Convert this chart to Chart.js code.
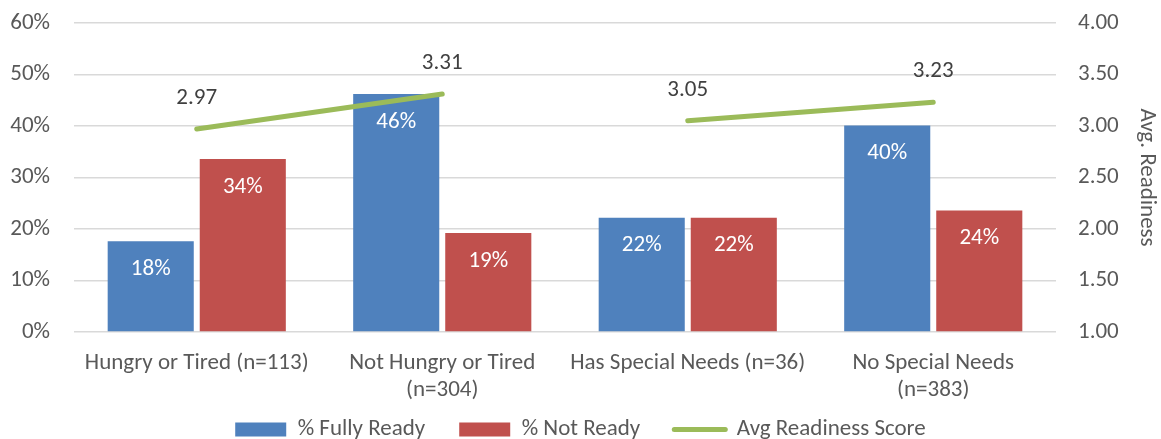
<!DOCTYPE html>
<html>
<head>
<meta charset="utf-8">
<script src="https://cdn.jsdelivr.net/npm/chart.js@4.4.1/dist/chart.umd.min.js"></script>
<style>
  html, body { margin: 0; padding: 0; background: #fff; }
  #wrap { width: 1161px; height: 439px; position: relative; }
</style>
</head>
<body>
<div id="wrap"><canvas id="c" width="1161" height="439"></canvas></div>
<script>
// Categories and series
const categories = [
  'Hungry or Tired (n=113)',
  ['Not Hungry or Tired', '(n=304)'],
  'Has Special Needs (n=36)',
  ['No Special Needs', '(n=383)']
];
const fullyReady = [17.6, 46.2, 22.2, 40.1];
const notReady = [33.6, 19.2, 22.2, 23.6];
const avgScore = [2.97, 3.31, 3.05, 3.23];
const leftTicks = [0, 10, 20, 30, 40, 50, 60];
const rightTicks = [1.0, 1.5, 2.0, 2.5, 3.0, 3.5, 4.0];

const FONT = 'Carlito, Lato, "Open Sans", sans-serif';
const FS = 23;
const BLUE = '#4F81BD', RED = '#C0504D', GREEN = '#9BBB59';
const TICK = '#595959';

// Value labels: percent inside bar tops, score above line points
const valueLabels = {
  id: 'valueLabels',
  afterDatasetsDraw(chart) {
    const ctx = chart.ctx;
    ctx.save();
    ctx.textAlign = 'center';
    ctx.textBaseline = 'middle';
    ctx.font = FS + 'px ' + FONT;
    chart.data.datasets.forEach((ds, i) => {
      const meta = chart.getDatasetMeta(i);
      meta.data.forEach((el, j) => {
        const v = ds.data[j];
        if (ds.type === 'line') {
          ctx.fillStyle = '#404040';
          ctx.fillText(v.toFixed(2), el.x, el.y - 31);
        } else {
          ctx.fillStyle = '#ffffff';
          ctx.fillText(Math.round(v) + '%', el.x, el.y + 28);
        }
      });
    });
    ctx.restore();
  }
};

// vertical axes: no extra space reserved above/below for the end tick labels
function noEndPadding(s) {
  s.paddingTop = 0;
  s.paddingBottom = 0;
}

new Chart(document.getElementById('c'), {
  data: {
    labels: categories,
    datasets: [
      {
        type: 'line', label: 'Avg Readiness Score', data: avgScore, yAxisID: 'y2',
        borderColor: GREEN, backgroundColor: GREEN, borderWidth: 5, borderCapStyle: 'round',
        pointRadius: 0, pointHoverRadius: 0, tension: 0, order: 0,
        segment: { borderColor: c => c.p0DataIndex === 1 ? 'rgba(0,0,0,0)' : GREEN }
      },
      {
        type: 'bar', label: '% Fully Ready', data: fullyReady, yAxisID: 'y',
        backgroundColor: BLUE, borderWidth: 0, order: 1,
        categoryPercentage: 0.75, barPercentage: 0.935
      },
      {
        type: 'bar', label: '% Not Ready', data: notReady, yAxisID: 'y',
        backgroundColor: RED, borderWidth: 0, order: 1,
        categoryPercentage: 0.75, barPercentage: 0.935
      }
    ]
  },
  options: {
    responsive: false,
    animation: false,
    layout: { padding: { top: 23, right: 0, left: 0, bottom: -12 } },
    plugins: {
      tooltip: { enabled: false },
      legend: {
        position: 'bottom',
        labels: {
          font: { family: FONT, size: FS },
          color: TICK,
          usePointStyle: true,
          pointStyleWidth: 51,
          boxHeight: 14,
          padding: 34,
          sort: (a, b) => {
            const o = { '% Fully Ready': 0, '% Not Ready': 1, 'Avg Readiness Score': 2 };
            return o[a.text] - o[b.text];
          },
          generateLabels(chart) {
            return chart.data.datasets.map((ds, i) => ds.type === 'line'
              ? { text: ds.label, pointStyle: 'line', strokeStyle: GREEN, fillStyle: GREEN, lineWidth: 5, lineCap: 'round', datasetIndex: i, fontColor: TICK }
              : { text: ds.label, pointStyle: 'rect', fillStyle: ds.backgroundColor, strokeStyle: ds.backgroundColor, lineWidth: 0, datasetIndex: i, fontColor: TICK });
          }
        }
      }
    },
    scales: {
      x: {
        grid: { display: false },
        border: { display: false },
        ticks: { color: TICK, font: { family: FONT, size: FS, lineHeight: 1.17 }, maxRotation: 0, autoSkip: false, padding: 10 },
        afterFit(s) {
          s.height = 52;
          s.paddingLeft = 0;
          s.paddingRight = 0;
          // let the two-line category names run below the axis box
          s._computeLabelArea = () => undefined;
        }
      },
      y: {
        position: 'left', min: 0, max: 60,
        afterBuildTicks(s) { s.ticks = leftTicks.map(v => ({ value: v })); },
        ticks: { color: TICK, font: { family: FONT, size: FS }, padding: 24, callback: v => v + '%' },
        grid: { color: '#D9D9D9', lineWidth: 1.5, drawTicks: false },
        border: { display: false },
        afterFit(s) { s.width = 74; noEndPadding(s); }
      },
      y2: {
        position: 'right', min: 1, max: 4,
        afterBuildTicks(s) { s.ticks = rightTicks.map(v => ({ value: v })); },
        ticks: { color: TICK, font: { family: FONT, size: FS }, padding: 22, callback: v => v.toFixed(2) },
        grid: { display: false, drawTicks: false },
        border: { display: false },
        title: { display: true, text: 'Avg. Readiness', color: TICK, font: { family: FONT, size: FS }, padding: { top: 0, bottom: 5 } },
        afterFit(s) { s.width = 105; noEndPadding(s); }
      }
    }
  },
  plugins: [valueLabels]
});
</script>
</body>
</html>
